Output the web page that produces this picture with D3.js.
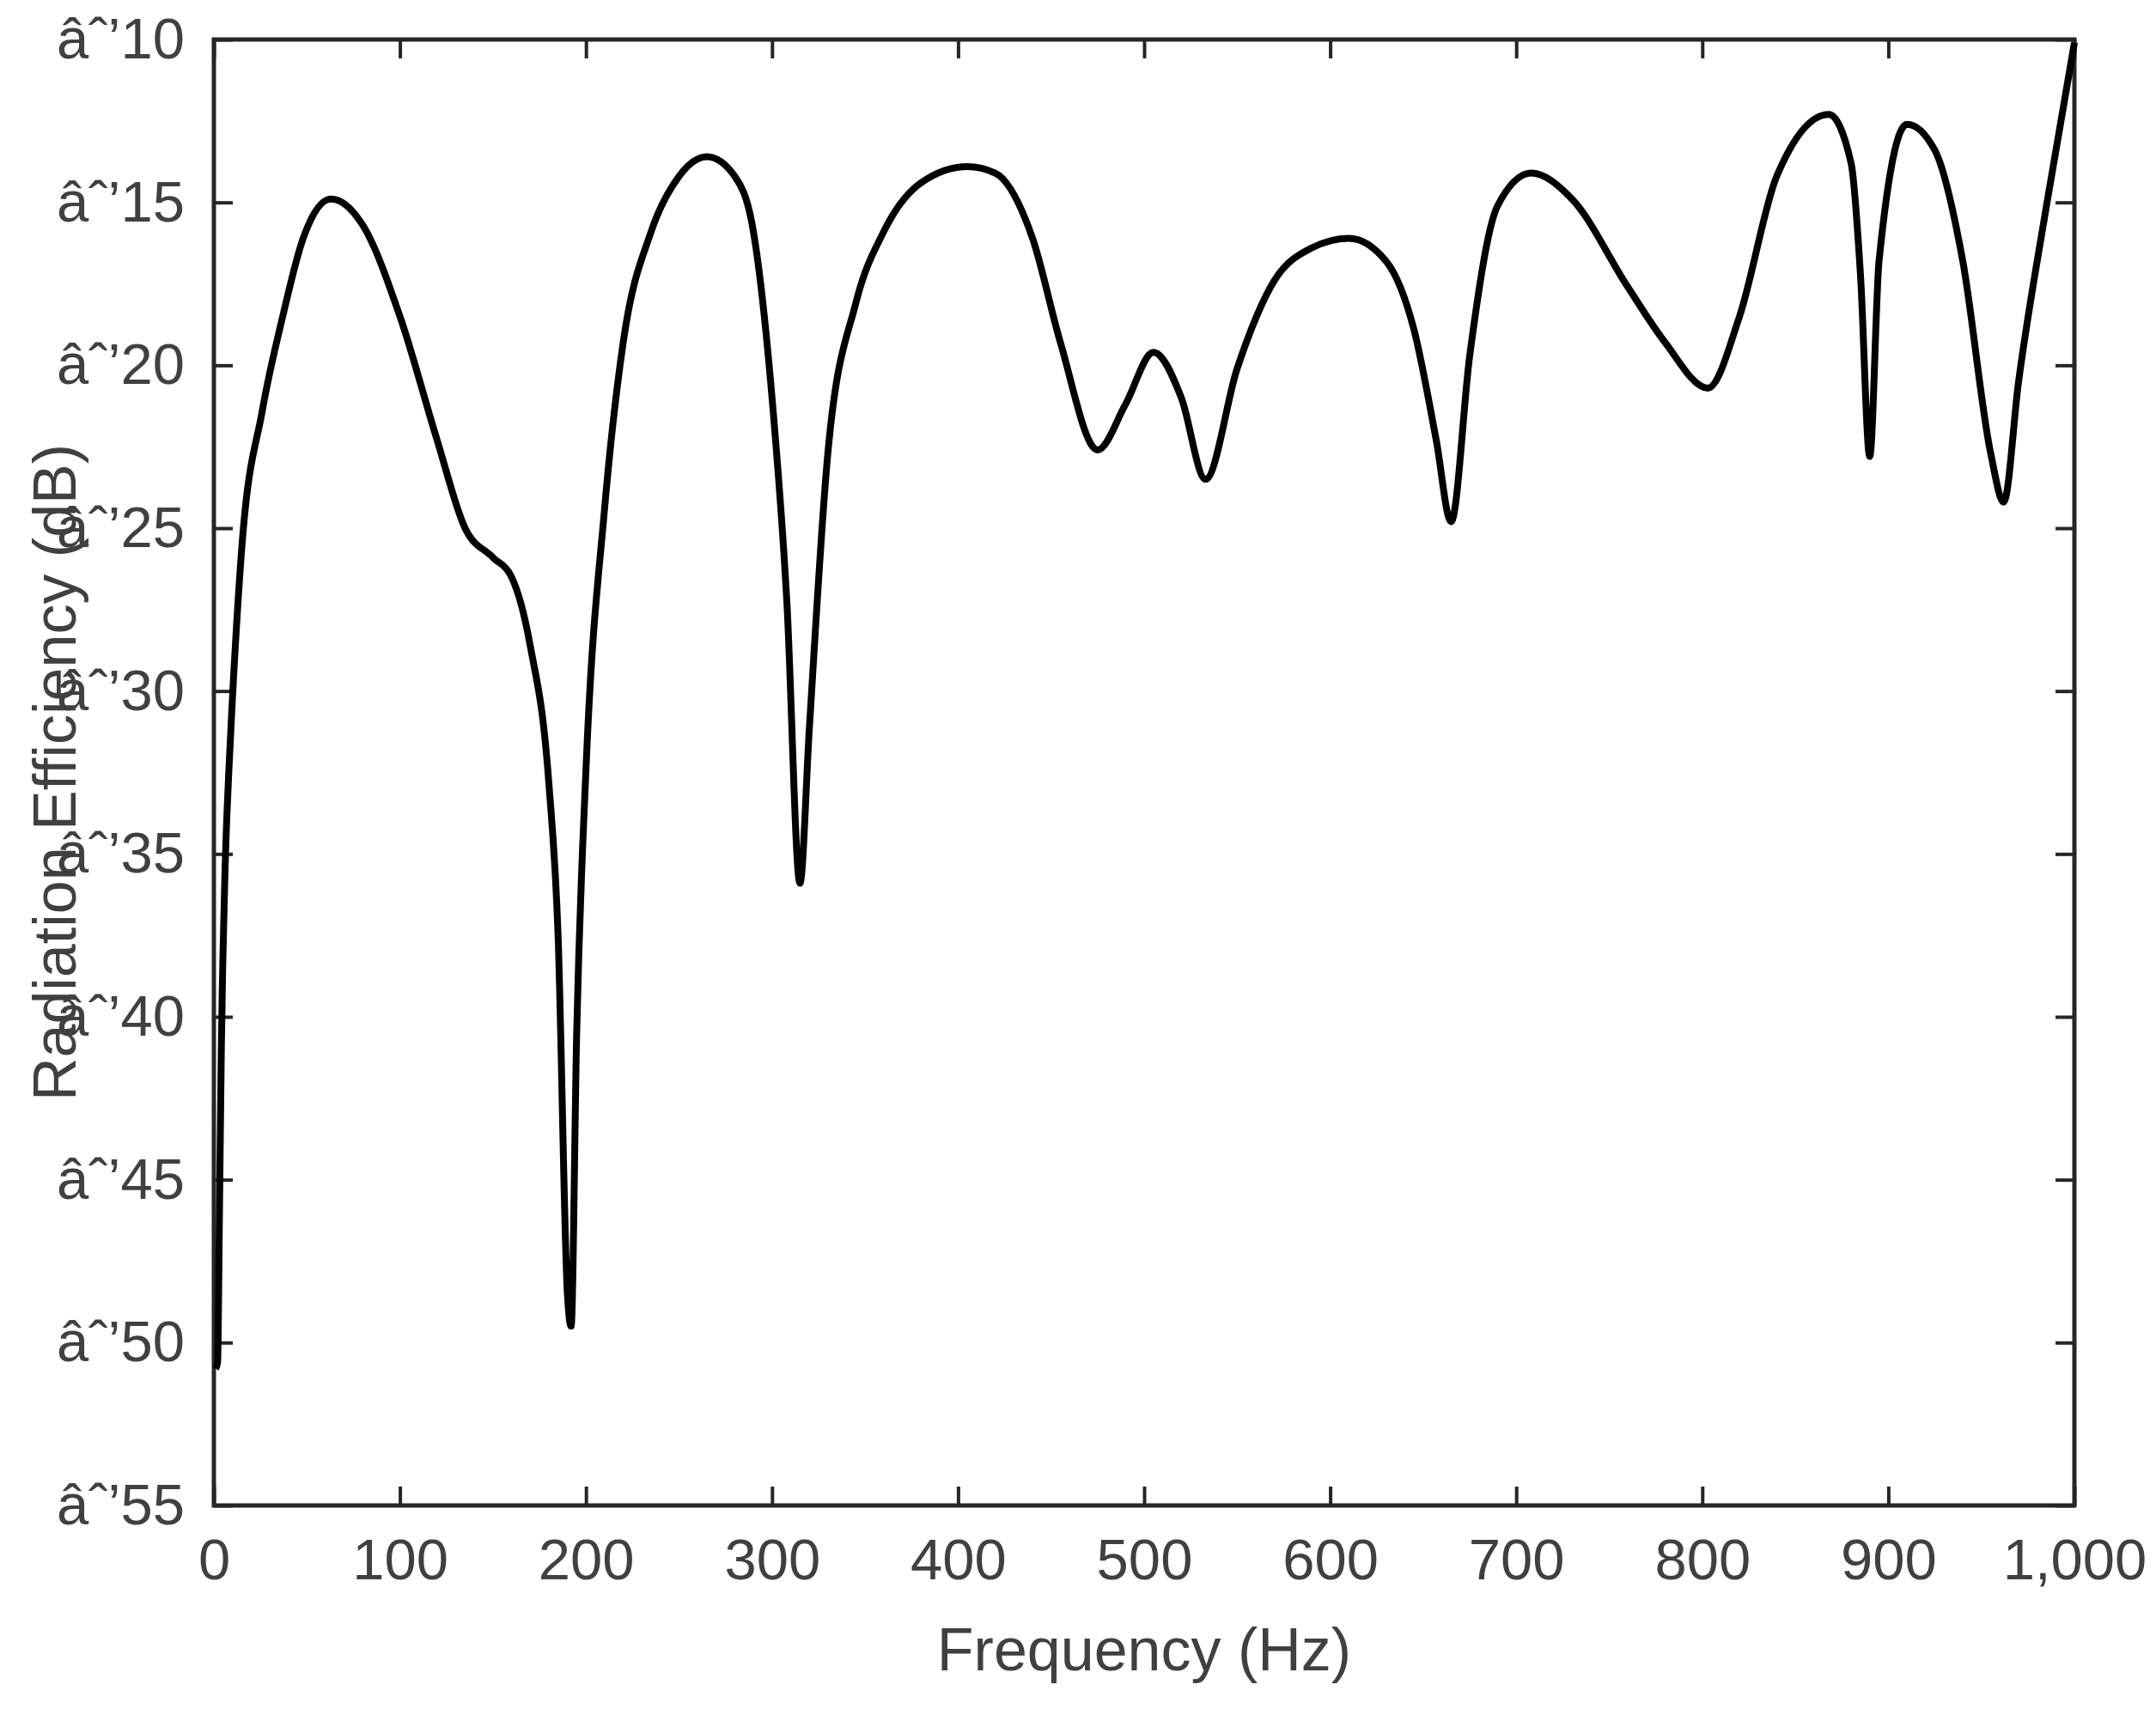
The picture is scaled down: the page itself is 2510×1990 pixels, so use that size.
<!DOCTYPE html><html><head><script src="https://cdn.jsdelivr.net/npm/d3@7"></script>
<style>body{margin:0;background:#fff}</style></head><body><svg id="c" width="2510" height="1990"></svg><script>
const freq=[1,2,3,4,6,8,10,15,26,37,48,63,80,100,120,135,150,160,170,180,185,190,192,195,200,210,220,235,250,265,280,290,300,308,315,320,330,345,360,380,405,420,440,455,475,490,505,520,533,550,570,590,610,630,645,657,665,675,690,708,730,760,780,803,820,840,868,880,885,890,895,910,925,940,955,962,970,985,1000];
const eff=[-50.8,-50.6,-46,-41,-35.5,-32.5,-30.2,-25.6,-21.4,-18.5,-16.1,-14.9,-15.7,-18.5,-22.3,-25,-25.9,-26.5,-28.6,-32.8,-37.5,-48.5,-49.5,-40.5,-32.4,-24.4,-19.3,-15.9,-14.2,-13.6,-14.2,-15.9,-21,-27.3,-35.9,-31.2,-22.7,-18.1,-15.9,-14.4,-13.9,-14.1,-16.1,-19.3,-22.6,-21.2,-19.6,-21,-23.5,-20.1,-17.4,-16.4,-16.1,-16.8,-18.9,-22.3,-24.8,-19.7,-15.1,-14.1,-14.9,-17.6,-19.3,-20.7,-18.5,-14.2,-12.3,-13.8,-17.2,-22.8,-16.8,-12.6,-13.4,-16.8,-22.7,-24.2,-20.5,-15.1,-10.1];
const xTicks=[0,100,200,300,400,500,600,700,800,900,1000];
const yTicks=[-55,-50,-45,-40,-35,-30,-25,-20,-15,-10];
const L=249,R=2415,T=46,B=1753;
const svg=d3.select("#c");
const x=d3.scaleLinear().domain([0,1000]).range([L,R]);
const y=d3.scaleLinear().domain([-55,-10]).range([B,T]);
const font="Arial, 'Liberation Sans', sans-serif", col="#404040";
svg.append("g").attr("transform",`translate(0,${B})`).call(d3.axisBottom(x).tickValues(xTicks).tickSizeInner(-22).tickSizeOuter(0).tickPadding(38)).call(g=>{g.select(".domain").remove();g.selectAll("line").attr("stroke","#262626").attr("stroke-width",4);g.selectAll("text").attr("font-size",67).attr("font-family",font).attr("fill",col);});
svg.append("g").attr("transform",`translate(${R},0)`).call(d3.axisBottom(x).tickValues([]).tickSizeOuter(0)).remove();
svg.append("g").attr("transform",`translate(${L},0)`).call(d3.axisLeft(y).tickValues(yTicks).tickSizeInner(-22).tickSizeOuter(0).tickPadding(34)).call(g=>{g.select(".domain").remove();g.selectAll("line").attr("stroke","#262626").attr("stroke-width",4);g.selectAll("text").attr("font-size",67).attr("font-family",font).attr("fill",col);});
// right/top ticks
svg.append("g").attr("transform",`translate(0,${T})`).call(d3.axisTop(x).tickValues(xTicks).tickSizeInner(-22).tickSizeOuter(0).tickFormat("")).call(g=>{g.select(".domain").remove();g.selectAll("line").attr("stroke","#262626").attr("stroke-width",4);});
svg.append("g").attr("transform",`translate(${R},0)`).call(d3.axisRight(y).tickValues(yTicks).tickSizeInner(-22).tickSizeOuter(0).tickFormat("")).call(g=>{g.select(".domain").remove();g.selectAll("line").attr("stroke","#262626").attr("stroke-width",4);});
svg.append("rect").attr("x",L).attr("y",T).attr("width",R-L).attr("height",B-T).attr("fill","none").attr("stroke","#262626").attr("stroke-width",5);
const data=freq.map((f,i)=>[f,eff[i]]);
svg.append("path").datum(data).attr("fill","none").attr("stroke","#000").attr("stroke-width",8).attr("stroke-linejoin","round")
 .attr("d",d3.line().x(d=>x(d[0])).y(d=>y(d[1])).curve(d3.curveMonotoneX));
svg.append("text").attr("x",(L+R)/2).attr("y",1945).attr("text-anchor","middle").attr("font-size",70).attr("font-family",font).attr("fill",col).text("Frequency (Hz)");
svg.append("text").attr("transform",`translate(88,${(T+B)/2}) rotate(-90)`).attr("text-anchor","middle").attr("font-size",70).attr("font-family",font).attr("fill",col).text("Radiation Efficiency (dB)");
</script></body></html>
